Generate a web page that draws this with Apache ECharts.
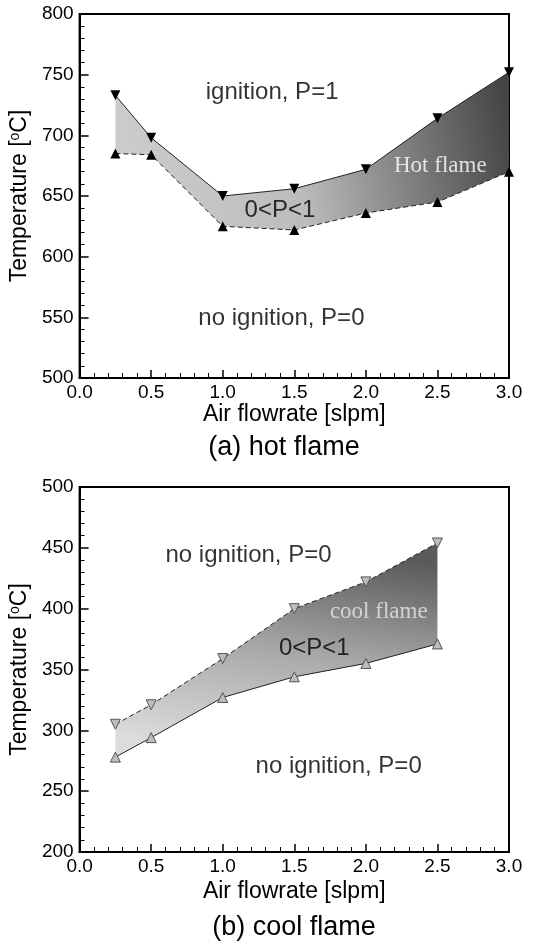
<!DOCTYPE html>
<html>
<head>
<meta charset="utf-8">
<script src="https://cdn.jsdelivr.net/npm/echarts@6/dist/echarts.min.js"></script>
<style>
  html, body { margin: 0; padding: 0; background: #fff; }
  #chart { width: 533px; height: 941px; }
</style>
</head>
<body>
<div id="chart"></div>
<script>
// (a) hot flame
const flowHot = [0.25, 0.5, 1.0, 1.5, 2.0, 2.5, 3.0]
const hotUpper = [733, 698, 650, 656, 672, 714, 752]
const hotLower = [685, 684, 625, 622, 636, 645, 670]
// (b) cool flame
const flowCool = [0.25, 0.5, 1.0, 1.5, 2.0, 2.5]
const coolUpper = [305, 321, 359, 400, 422, 454]
const coolLower = [278, 294, 327, 344, 355, 371]

const notesHot = [
  { text: 'ignition, P=1', x: 1.345, y: 735 },
  { text: '0<P<1', x: 1.40, y: 638 },
  { text: 'no ignition, P=0', x: 1.41, y: 549 }
]
const flameHot = { text: 'Hot flame', x: 2.52, y: 675 }
const notesCool = [
  { text: 'no ignition, P=0', x: 1.18, y: 444 },
  { text: '0<P<1', x: 1.64, y: 367 },
  { text: 'no ignition, P=0', x: 1.81, y: 270 }
]
const flameCool = { text: 'cool flame', x: 2.09, y: 397 }

const sans = 'Liberation Sans, Arial, sans-serif'
const serif = 'Liberation Serif, Times New Roman, serif'

const pairs = (xs, ys) => xs.map((x, i) => [x, ys[i]])

function bandSeries (idx, xs, upper, lower, gradient) {
  return {
    type: 'custom',
    xAxisIndex: idx,
    yAxisIndex: idx,
    silent: true,
    z: 1,
    data: [[xs[0], upper[0]]],
    renderItem (params, api) {
      const pts = []
      xs.forEach((x, i) => pts.push(api.coord([x, upper[i]])))
      for (let i = xs.length - 1; i >= 0; i--) pts.push(api.coord([xs[i], lower[i]]))
      return {
        type: 'polygon',
        shape: { points: pts },
        style: { fill: gradient, stroke: null }
      }
    }
  }
}

function lineSeries (idx, xs, ys, opts) {
  return {
    type: 'line',
    xAxisIndex: idx,
    yAxisIndex: idx,
    silent: true,
    z: 3,
    data: pairs(xs, ys),
    symbol: 'triangle',
    symbolSize: 10,
    symbolRotate: opts.down ? 180 : 0,
    showSymbol: true,
    lineStyle: { color: '#222', width: 1, type: opts.dashed ? [5, 3] : 'solid' },
    itemStyle: { color: opts.fill, borderColor: opts.border, borderWidth: opts.border ? 1 : 0 }
  }
}

function noteSeries (idx, notes, font, color, size) {
  return {
    type: 'scatter',
    xAxisIndex: idx,
    yAxisIndex: idx,
    silent: true,
    z: 5,
    symbolSize: 0,
    data: notes.map(n => ({ name: n.text, value: [n.x, n.y] })),
    label: {
      show: true,
      position: 'inside',
      formatter: p => p.name,
      fontFamily: font,
      fontSize: size,
      color: color
    }
  }
}

function xAxis (idx, gap) {
  return {
    type: 'value',
    gridIndex: idx,
    min: 0,
    max: 3,
    interval: 0.5,
    name: 'Air flowrate [slpm]',
    nameLocation: 'middle',
    nameGap: gap,
    nameTextStyle: { fontFamily: sans, fontSize: 23, color: '#000' },
    axisLine: { lineStyle: { color: '#000', width: 2 } },
    axisTick: { inside: true, length: 8, lineStyle: { color: '#000', width: 1.5 } },
    minorTick: { show: true, splitNumber: 5, length: 5, lineStyle: { color: '#000', width: 1 } },
    axisLabel: {
      margin: 5,
      fontFamily: sans,
      fontSize: 19,
      color: '#000',
      formatter: v => v.toFixed(1)
    },
    splitLine: { show: false }
  }
}

function yAxis (idx, min, max) {
  return {
    type: 'value',
    gridIndex: idx,
    min: min,
    max: max,
    interval: 50,
    name: 'Temperature [{sup|o}C]',
    nameLocation: 'middle',
    nameGap: 37,
    nameTextStyle: {
      fontFamily: sans,
      fontSize: 23,
      color: '#000',
      rich: {
        sup: { fontFamily: sans, fontSize: 14, color: '#000', verticalAlign: 'top', padding: [0, 0, 7, 0] }
      }
    },
    axisLine: { lineStyle: { color: '#000', width: 2 } },
    axisTick: { inside: true, length: 9, lineStyle: { color: '#000', width: 1.5 } },
    minorTick: { show: true, splitNumber: 5, length: 5, lineStyle: { color: '#000', width: 1 } },
    axisLabel: { margin: 6, fontFamily: sans, fontSize: 19, color: '#000' },
    splitLine: { show: false }
  }
}

const hotFill = new echarts.graphic.LinearGradient(0, 0.75, 1, 0.25, [
  { offset: 0, color: '#cdcdcd' },
  { offset: 0.45, color: '#bcbcbc' },
  { offset: 1, color: '#444444' }
])
const coolFill = new echarts.graphic.LinearGradient(0.55, 0, 0.45, 1, [
  { offset: 0, color: '#5a5a5a' },
  { offset: 0.5, color: '#a8a8a8' },
  { offset: 1, color: '#dcdcdc' }
])

const option = {
  animation: false,
  backgroundColor: '#fff',
  grid: [
    { left: 74, top: 14, width: 435, height: 364, show: true, borderColor: '#000', borderWidth: 2, containLabel: false },
    { left: 74, top: 487, width: 435, height: 365, show: true, borderColor: '#000', borderWidth: 2, containLabel: false }
  ],
  xAxis: [xAxis(0, 24), xAxis(1, 28)],
  yAxis: [yAxis(0, 500, 800), yAxis(1, 200, 500)],
  graphic: [
    { type: 'text', x: 284, y: 448, style: { text: '(a) hot flame', font: '27px ' + sans, fill: '#000', textAlign: 'center', textVerticalAlign: 'middle' } },
    { type: 'text', x: 294, y: 928, style: { text: '(b) cool flame', font: '27px ' + sans, fill: '#000', textAlign: 'center', textVerticalAlign: 'middle' } }
  ],
  series: [
    bandSeries(0, flowHot, hotUpper, hotLower, hotFill),
    lineSeries(0, flowHot, hotUpper, { down: true, dashed: false, fill: '#000' }),
    lineSeries(0, flowHot, hotLower, { down: false, dashed: true, fill: '#000' }),
    noteSeries(0, notesHot, sans, '#000', 24),
    noteSeries(0, [flameHot], serif, '#fff', 23),
    bandSeries(1, flowCool, coolUpper, coolLower, coolFill),
    lineSeries(1, flowCool, coolUpper, { down: true, dashed: true, fill: '#bdbdbd', border: '#555' }),
    lineSeries(1, flowCool, coolLower, { down: false, dashed: false, fill: '#bdbdbd', border: '#555' }),
    noteSeries(1, notesCool, sans, '#000', 24),
    noteSeries(1, [flameCool], serif, '#e6e6e6', 23)
  ]
}

const chart = echarts.init(document.getElementById('chart'))
chart.setOption(option)
</script>
</body>
</html>
